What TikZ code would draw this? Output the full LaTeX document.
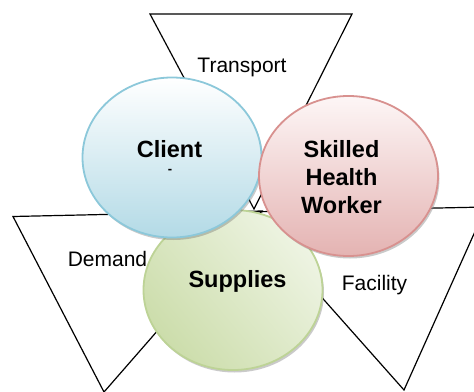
\documentclass[tikz,border=0pt]{standalone}
\usepackage{fontspec}
\setmainfont{Liberation Sans}
\usetikzlibrary{shapes.geometric,shadows}
\definecolor{clientLine}{HTML}{8CC8DA}
\definecolor{clientTop}{HTML}{FFFFFF}
\definecolor{clientBot}{HTML}{B3DAE6}
\definecolor{workerLine}{HTML}{D8918F}
\definecolor{workerTop}{HTML}{FDF6F6}
\definecolor{workerBot}{HTML}{E4B3B2}
\definecolor{supplyLine}{HTML}{BDD396}
\definecolor{supplyLight}{HTML}{EEF4E3}
\definecolor{supplyDark}{HTML}{CCDDAB}
\tikzset{
  funnel/.style={draw=black, line width=1.2pt, line join=miter},
  bubble/.style={ellipse, inner sep=0pt, line width=1.8pt,
    minimum width=179pt, minimum height=160pt,
    drop shadow={shadow xshift=1.5pt, shadow yshift=-2.5pt, opacity=0.35, fill=black!60}},
  plain/.style={font=\fontsize{21}{25}\selectfont, anchor=base},
  title/.style={font=\fontsize{23.5}{28}\selectfont\bfseries, anchor=base, align=center}
}
\begin{document}
\begin{tikzpicture}[x=1pt, y=-1pt]
\useasboundingbox (0,0) rectangle (474,391);
\begin{scope}
\clip (0,0) rectangle (474,391);
% three funnels around the centre
\draw[funnel] (150,14) -- (352,14) -- (254,209) -- cycle;
\draw[funnel] (13,216.5) -- (262,211) -- (104,392) -- cycle;
\draw[funnel] (246,212) -- (486,207) -- (404,390) -- cycle;

% the three factors
\node[bubble, draw=supplyLine, shading=axis, top color=supplyLight,
      bottom color=supplyDark, shading angle=-50] (supplies) at (233,290) {};
\node[bubble, draw=clientLine, top color=clientTop, bottom color=clientBot]
      (client) at (172,157.5) {};
\node[bubble, draw=workerLine, top color=workerTop, bottom color=workerBot]
      (worker) at (348.5,176) {};
\end{scope}

% labels
\node[plain] (transport) at (242,72.7) {Transport};
\node[plain] (demand) at (107.5,266) {Demand};
\node[plain] (facility) at (374.5,290.5) {Facility};
\node[title] (clientText) at (169.5,157) {Client};
\node[font=\fontsize{13}{13}\selectfont\bfseries] (clientDash) at (170,171.5) {-};
% the base anchor of a multi-line node sits on its last line
\node[title] (workerText) at (341.5,213) {Skilled\\Health\\Worker};
\node[title] (suppliesText) at (237.5,287) {Supplies};
\end{tikzpicture}
\end{document}
